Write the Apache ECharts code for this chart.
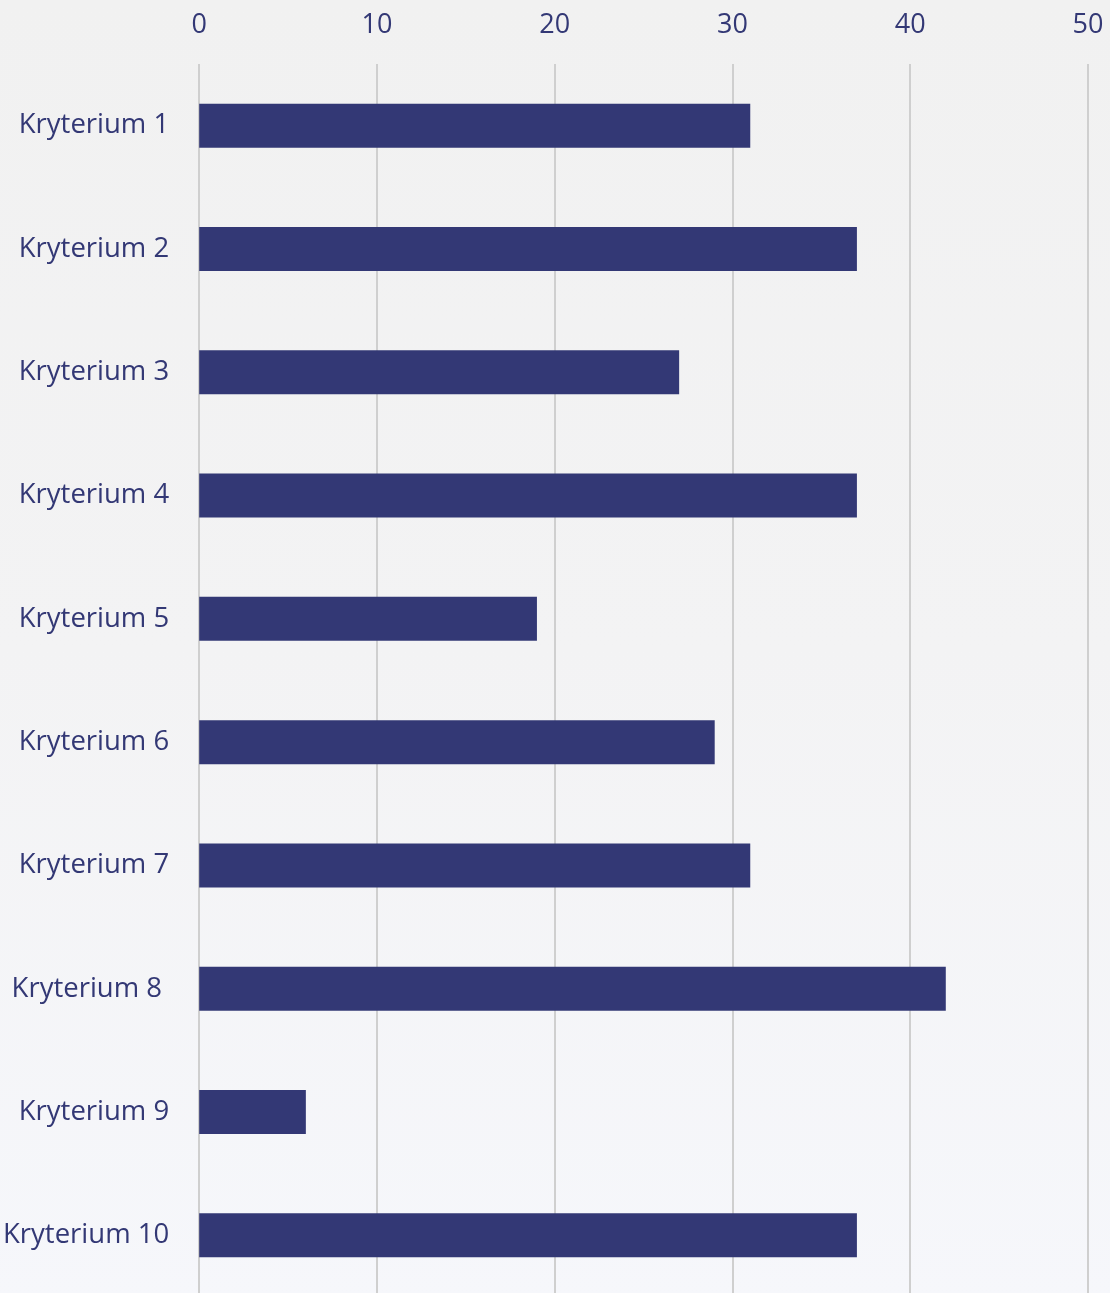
<!DOCTYPE html>
<html>
<head>
<meta charset="utf-8">
<script src="https://cdn.jsdelivr.net/npm/echarts@6/dist/echarts.min.js"></script>
<style>
html, body { margin: 0; padding: 0; overflow: hidden; }
#main { width: 1110px; height: 1300px; background: linear-gradient(180deg, #f1f1f1 0%, #f3f3f4 50%, #f6f7fb 100%); }
</style>
</head>
<body>
<div id="main"></div>
<script>
var categories = ['Kryterium 1', 'Kryterium 2', 'Kryterium 3', 'Kryterium 4', 'Kryterium 5',
	'Kryterium 6', 'Kryterium 7', 'Kryterium 8 ', 'Kryterium 9', 'Kryterium 10'];
var values = [31, 37, 27, 37, 19, 29, 31, 42, 6, 37];
var tickMin = 0, tickMax = 50, tickStep = 10;

var myChart = echarts.init(document.getElementById('main'));
var option = {
	backgroundColor: 'transparent',
	color: ['#333875'],
	grid: {
		left: 198,
		top: 64,
		right: 22,
		bottom: 3
	},
	xAxis: {
		type: 'value',
		position: 'top',
		min: tickMin,
		max: tickMax,
		interval: tickStep,
		axisLine: { show: false },
		axisTick: { show: false },
		axisLabel: {
			color: '#333875',
			fontSize: 27,
			fontFamily: 'Open Sans',
			margin: 25
		},
		splitLine: { lineStyle: { color: '#cfcfcf', width: 2 } }
	},
	yAxis: {
		type: 'category',
		data: categories,
		inverse: true,
		axisLine: { show: false },
		axisTick: { show: false },
		axisLabel: {
			color: '#333875',
			fontSize: 27.5,
			fontFamily: 'Open Sans',
			margin: 30,
			padding: [4, 0, 0, 0]
		}
	},
	series: [{
		type: 'bar',
		data: values,
		barWidth: 44,
		itemStyle: { color: '#333875' },
		animation: false
	}]
};
myChart.setOption(option);
</script>
</body>
</html>
